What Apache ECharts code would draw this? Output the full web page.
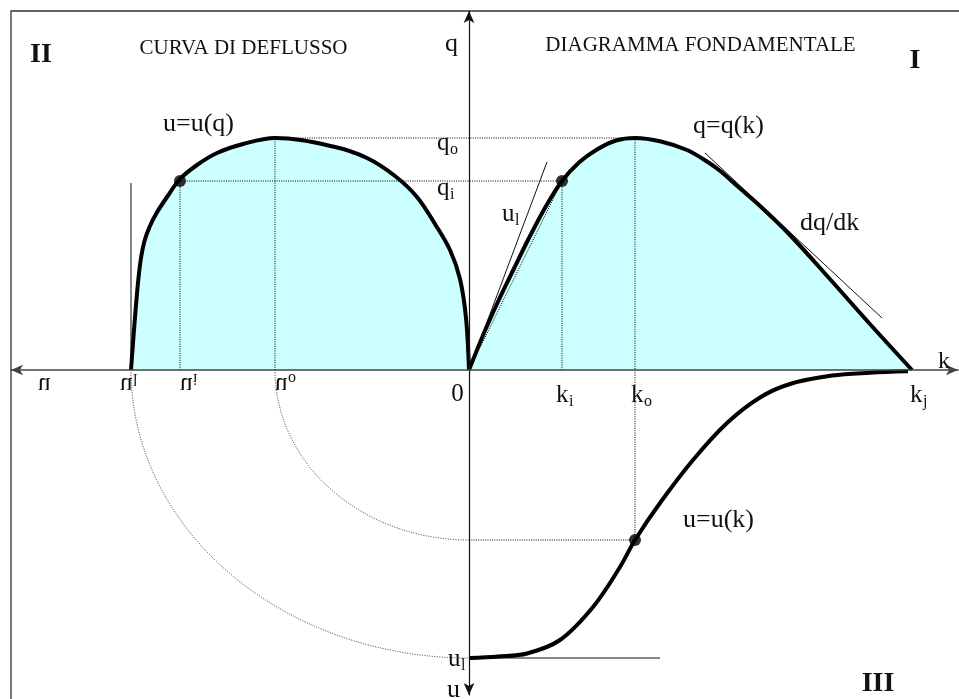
<!DOCTYPE html>
<html>
<head>
<meta charset="utf-8">
<script src="https://cdn.jsdelivr.net/npm/echarts@6/dist/echarts.min.js"></script>
<style>
  html, body { margin: 0; padding: 0; background: #fff; }
  #chart { width: 959px; height: 699px; }
</style>
</head>
<body>
<div id="chart"></div>
<script>
// Fundamental diagram of traffic flow drawn in three quadrants:
//   I   q = q(k)  flow against density
//   II  u = u(q)  speed (plotted leftwards) against flow
//   III u = u(k)  speed (plotted downwards) against density
// Values are in schematic units.

// Quadrant I: q(k)
const kqDensity = [0, 1.5, 3.0, 4.5, 6.0, 7.65, 9.3, 11.0, 12.8, 14.7, 16.6, 19.2, 21.8, 23.4, 25.0, 27.0, 29.0, 32.0, 36.0, 40.0, 44.3];
const kqFlow    = [0, 3.7, 7.05, 10.15, 13.2, 16.3, 18.9, 20.75, 22.05, 22.95, 23.2, 22.85, 22.0, 21.1, 20.0, 18.25, 16.5, 13.6, 9.2, 4.7, 0];

// Quadrant II: u(q)
const uqSpeed = [33.8, 33.6, 33.3, 33.05, 32.8, 32.45, 31.95, 31.3, 30.2, 28.9, 27.2, 25.2, 22.6, 19.4, 13.6, 10.2, 7.4, 5.2, 3.4, 1.9, 0.9, 0.3, 0];
const uqFlow  = [0, 2.7, 6.5, 9.2, 11.2, 12.9, 14.3, 15.6, 17.3, 19.1, 20.5, 21.7, 22.6, 23.2, 22.35, 21.2, 19.4, 17.3, 14.6, 12.0, 9.1, 5.2, 0];

// Quadrant III: u(k)
const ukDensity = [0, 2.9, 5.8, 9.1, 12.4, 15.1, 16.6, 19.1, 22.4, 25.8, 29.1, 32.1, 36.3, 40.1, 43.9];
const ukSpeed   = [28.8, 28.65, 28.35, 27.0, 23.7, 19.7, 17.0, 13.3, 9.0, 5.3, 2.75, 1.4, 0.56, 0.27, 0.12];

// Characteristic values
const kI = 9.3, kO = 16.6, kJ = 44.3;     // densities
const qI = 18.9, qO = 23.2;               // flows
const uI = 28.9, uO = 19.4, uF = 33.8;    // speeds on the horizontal branch
const uKo = 17.0, uL = 28.8;              // speeds on the vertical branch

// Tangents: free-flow speed at the origin and wave speed dq/dk
const freeFlowTangent = [[0, 0], [7.8, 20.8]];
const waveTangent = [[23.6, 21.7], [41.3, 5.2]];
const freeSpeedMark = 18.7;   // height of the thin marker at u_l on the left
const lowSpeedLineEnd = 19.1; // extent of the horizontal line at u_l below

// Construction arcs carrying a speed from the horizontal to the vertical branch
const arcPairs = [[uF, uL], [uO, uKo]];

const zip = (xs, ys, sx = 1, sy = 1) => xs.map((x, i) => [sx * x, sy * ys[i]]);

const CURVE = { color: '#000', width: 4 };
const DOT = { color: '#000', width: 1, type: [1, 1.3] };
const THIN = { color: '#111', width: 1 };

function line(data, style, z, extra) {
  return Object.assign({
    type: 'line', data, symbol: 'none', silent: true, z,
    lineStyle: style, animation: false
  }, extra || {});
}

const SMOOTH = 0.35;

const series = [
  // light fills under the curves
  line(zip(kqDensity, kqFlow), { width: 0, opacity: 0 }, 1,
       { smooth: SMOOTH, areaStyle: { color: '#ccffff', opacity: 1 } }),
  line(zip(uqSpeed, uqFlow, -1, 1), { width: 0, opacity: 0 }, 1,
       { smooth: SMOOTH, areaStyle: { color: '#ccffff', opacity: 1 } }),

  // dotted projection lines
  line([[-uO, qO], [kO, qO]], DOT, 2),
  line([[-uI, qI], [kI, qI]], DOT, 2),
  line([[-uI, 0], [-uI, qI]], DOT, 2),
  line([[-uO, 0], [-uO, qO]], DOT, 2),
  line([[kI, 0], [kI, qI]], DOT, 2),
  line([[kO, qO], [kO, -uKo]], DOT, 2),
  line([[0, -uKo], [kO, -uKo]], DOT, 2),
  line([[0, 0], [kI, qI]], DOT, 2),

  // thin solid lines
  line(freeFlowTangent, THIN, 3),
  line(waveTangent, THIN, 3),
  line([[-uF, 0], [-uF, freeSpeedMark]], { color: '#333', width: 1.2 }, 3),
  line([[0, -uL], [lowSpeedLineEnd, -uL]], THIN, 3),

  // construction arcs
  {
    type: 'custom', coordinateSystem: 'cartesian2d', z: 2, silent: true, animation: false,
    data: arcPairs,
    renderItem(params, api) {
      const a = api.coord([-api.value(0), 0]);
      const b = api.coord([0, -api.value(1)]);
      const rx = b[0] - a[0], ry = b[1] - a[1];
      return {
        type: 'path',
        shape: { pathData: `M ${a[0]} ${a[1]} A ${rx} ${ry} 0 0 0 ${b[0]} ${b[1]}` },
        style: { fill: 'none', stroke: '#333', lineWidth: 1, lineDash: [1, 1.5] }
      };
    }
  },

  // main curves
  line(zip(kqDensity, kqFlow), CURVE, 4, { smooth: SMOOTH }),
  line(zip(uqSpeed, uqFlow, -1, 1), CURVE, 4, { smooth: SMOOTH }),
  line(zip(ukDensity, ukSpeed, 1, -1), CURVE, 4, { smooth: SMOOTH }),

  // characteristic points
  {
    type: 'scatter', z: 5, silent: true, animation: false,
    symbolSize: 12, itemStyle: { color: '#000' },
    data: [[-uI, qI], [kI, qI], [kO, -uKo]]
  }
];

const option = {
  backgroundColor: '#fff',
  animation: false,
  grid: { left: 11, right: 1, top: 11, bottom: 4, containLabel: false },
  xAxis: {
    type: 'value', min: -45.8, max: 48.9, z: 6,
    axisLine: { onZero: true, lineStyle: { color: '#444', width: 1.6 },
                symbol: ['arrow', 'arrow'], symbolSize: [8, 12] },
    axisTick: { show: false }, axisLabel: { show: false }, splitLine: { show: false }
  },
  yAxis: {
    type: 'value', min: -32.5, max: 35.9, z: 6,
    axisLine: { onZero: true, lineStyle: { color: '#111', width: 1.2 },
                symbol: ['arrow', 'arrow'], symbolSize: [8, 12] },
    axisTick: { show: false }, axisLabel: { show: false }, splitLine: { show: false }
  },
  series
};

const chart = echarts.init(document.getElementById('chart'), null, { renderer: 'canvas' });
chart.setOption(option);

// ---- text labels ----
const FONT = '"Liberation Serif", "Times New Roman", Times, serif';
const MID = 0.22; // distance from the text's middle line down to its baseline, in em
const ctx = document.createElement('canvas').getContext('2d');
function measure(text, size, bold) {
  ctx.font = `${bold ? 'bold ' : ''}${size}px ${FONT}`;
  return ctx.measureText(text).width;
}
// text positioned by its baseline
function txt(text, x, base, size, opts) {
  opts = opts || {};
  const align = opts.align || 'left';
  return {
    type: 'text', x, y: base - MID * size, z: 20,
    style: {
      text, font: `${opts.bold ? 'bold ' : ''}${size}px ${FONT}`, fill: '#111',
      textAlign: align, align, textVerticalAlign: 'middle', verticalAlign: 'middle'
    }
  };
}
// symbol with subscript; flip mirrors it upside down
function subTxt(main, sub, left, base, size, subSize, flip) {
  const mw = measure(main, size);
  return {
    type: 'group', x: left, y: base, scaleY: flip ? -1 : 1,
    children: [txt(main, 0, 0, size), txt(sub, mw + 0.5, size * 0.18, subSize)]
  };
}

const px = (x, y) => chart.convertToPixel({ gridIndex: 0 }, [x, y]);
const O = px(0, 0);
const T = 25, S = 16, L = 26;

const graphics = [
  // frame
  { type: 'rect', z: 0, shape: { x: 11, y: 11, width: 990, height: 740 },
    style: { fill: 'none', stroke: '#333', lineWidth: 1.3 } },

  // titles and quadrant numbers
  txt('CURVA DI DEFLUSSO', 243.5, 53, 21, { align: 'center' }),
  txt('DIAGRAMMA FONDAMENTALE', 700.5, 50, 21, { align: 'center' }),
  txt('II', 41, 61, 28, { bold: true, align: 'center' }),
  txt('I', 915, 67, 28, { bold: true, align: 'center' }),
  txt('III', 878, 690, 28, { bold: true, align: 'center' }),

  // axis names
  txt('q', O[0] - 24, 50, L),
  txt('k', 938, O[1] - 3, 24),
  txt('u', O[0] - 22, 696, L),
  subTxt('u', '', 38, O[1] + 9, T, S, true),
  txt('0', O[0] - 11.5, O[1] + 30, T, { align: 'center' }),

  // density marks
  subTxt('k', 'i', px(kI, 0)[0] - 6, O[1] + 31, T, S),
  subTxt('k', 'o', px(kO, 0)[0] - 4, O[1] + 31, T, S),
  subTxt('k', 'j', px(kJ, 0)[0] - 2, O[1] + 31, T, S),

  // flow marks
  subTxt('q', 'o', O[0] - 32, px(0, qO)[1] + 10.5, T, S),
  subTxt('q', 'i', O[0] - 32, px(0, qI)[1] + 12.5, T, S),

  // speed marks on the horizontal branch (mirrored)
  subTxt('u', 'l', px(-uF, 0)[0] - 11, O[1] + 9, T, S, true),
  subTxt('u', 'i', px(-uI, 0)[0], O[1] + 9, T, S, true),
  subTxt('u', 'o', px(-uO, 0)[0], O[1] + 9, T, S, true),

  // speed mark on the vertical branch
  subTxt('u', 'l', O[0] - 21, px(0, -uL)[1] + 7, T, S),

  // curve names
  txt('u=u(q)', 163, 130, L),
  txt('q=q(k)', 693, 132, L),
  txt('dq/dk', 800, 229, L),
  txt('u=u(k)', 683, 526, L),
  subTxt('u', 'l', 502, 220, T, S)
];

chart.setOption({ graphic: graphics });
</script>
</body>
</html>
